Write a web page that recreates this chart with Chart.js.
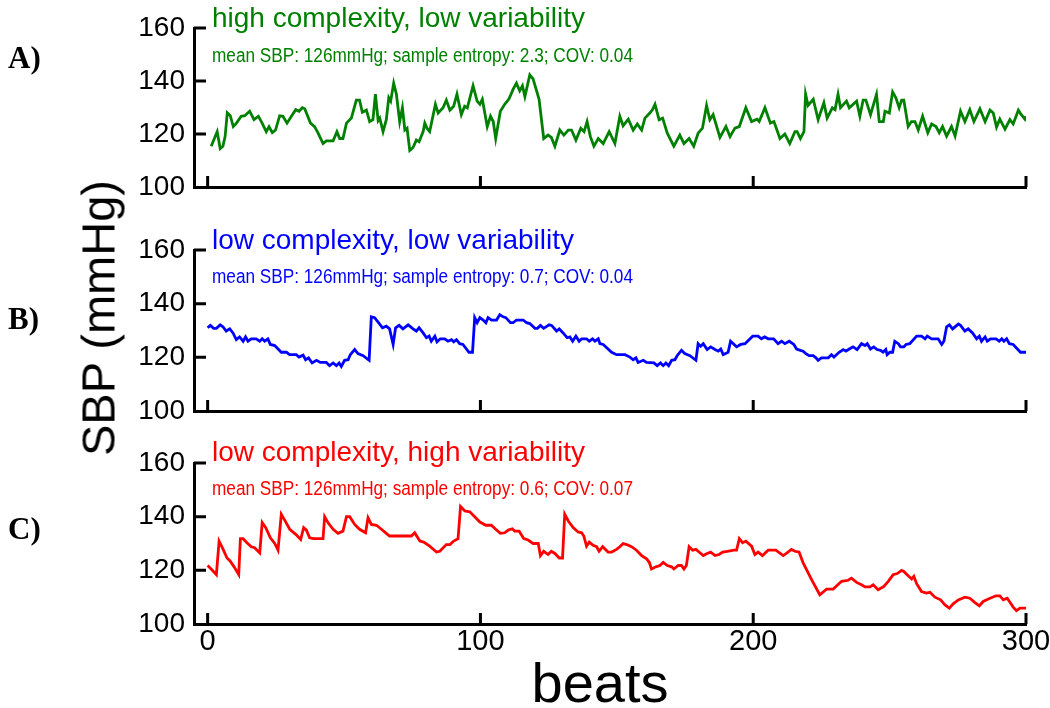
<!DOCTYPE html>
<html>
<head>
<meta charset="utf-8">
<script src="https://cdn.jsdelivr.net/npm/chart.js@4.4.0/dist/chart.umd.min.js"></script>
<style>
body{margin:0;width:1050px;height:708px;position:relative;background:#fff;overflow:hidden;font-family:'Liberation Sans',Arial,sans-serif}
canvas{position:absolute;left:0}
.t1{position:absolute;left:212px;font-size:28px;line-height:1;white-space:nowrap}
.t2{position:absolute;left:212px;font-size:20px;line-height:1;white-space:nowrap;transform:scaleX(0.86);transform-origin:left top}
.lab{position:absolute;left:8px;font:bold 31px 'Liberation Serif','Times New Roman',serif;line-height:1}
#ylab{position:absolute;left:98px;top:318px;transform:translate(-50%,-50%) rotate(-90deg);font-size:47px;line-height:1;white-space:nowrap}
#xlab{position:absolute;left:600px;top:655px;transform:translateX(-50%);font-size:56px;line-height:1;white-space:nowrap}
</style>
</head>
<body>
<canvas id="pa" width="1050" height="213" style="top:0"></canvas>
<canvas id="pb" width="1050" height="223" style="top:215px"></canvas>
<canvas id="pc" width="1050" height="268" style="top:440px"></canvas>

<div class="lab" style="top:42px">A)</div>
<div class="lab" style="top:303px">B)</div>
<div class="lab" style="top:513px">C)</div>
<div id="ylab">SBP (mmHg)</div>
<div id="xlab">beats</div>

<div class="t1" style="top:4px;color:#008000">high complexity, low variability</div>
<div class="t2" style="top:45px;color:#008000">mean SBP: 126mmHg; sample entropy: 2.3; COV: 0.04</div>
<div class="t1" style="top:226px;color:#0000ff">low complexity, low variability</div>
<div class="t2" style="top:266px;color:#0000ff">mean SBP: 126mmHg; sample entropy: 0.7; COV: 0.04</div>
<div class="t1" style="top:438px;color:#ff0000">low complexity, high variability</div>
<div class="t2" style="top:478px;color:#ff0000">mean SBP: 126mmHg; sample entropy: 0.6; COV: 0.07</div>

<script>
// beat ticks and SBP ticks
const xTicks = [0, 100, 200, 300]
const yTicks = [100, 120, 140, 160]

// A) high complexity, low variability
const aBeats = [1.3,3.5,4.6,5.6,6.4,7.2,8.3,9.4,10.5,12.3,
  13.6,15.4,17,18.6,19.7,21.5,22.5,23.7,24.9,26.4,
  27.6,29.1,30.7,32.3,33.5,34.7,35.6,37.7,39.2,40.5,
  42.3,43.5,46,47.4,48.4,49.6,50.9,52.7,54.5,55.7,
  56.7,58.2,59.4,60.6,61.5,62.5,63.1,64.3,65.5,66.4,
  67.1,68.2,69.2,70.4,71.4,72.3,73.1,74.1,75.3,76.5,
  77.5,79,79.6,80.4,81.4,83.5,84.5,86.3,87.5,88.8,
  90.2,91.4,93,94.2,95.2,97.3,98.8,99.8,100.7,102.5,
  103.7,104.7,105.6,107.3,108.9,110.5,112,113.2,114.4,115.4,
  116.3,118.1,119.3,121.5,123.2,124.8,126,127.3,129.1,130.6,
  132.2,133.4,135,136.8,138,139.1,140.3,141.6,143.2,145,
  147.2,149.3,151.1,152.3,154.2,156,157.5,159.1,160.3,162.1,
  163.1,164,165.5,166.8,168.5,170.9,173.1,174.6,176.5,178.2,
  179.8,181.4,182.9,184.1,185.3,187.8,190,191.5,193.3,194.9,
  197.3,199.4,201.4,202.2,204.3,206.3,207.6,209.8,211.6,213.4,
  215.3,216.1,217.3,218.6,219.2,220.1,222,223.8,225.9,227.1,
  229,230,231.1,232,234.2,235.2,237.9,239.1,240.3,241.3,
  243,245.2,246.2,247.7,248.3,249.9,251.1,252.3,253.5,254.4,
  255.2,256.8,258,259.3,260.5,262.1,264,265.4,267,268.2,
  269.4,270.9,272.7,274,276,277.6,279.4,280.9,283.1,285,
  286.8,288,289.2,290.4,292.3,294.1,295.3,297.2,298,299.6,
  300]
const aSbp = [115.4,120.9,114.5,115.4,119,128,126.9,122.8,124,126.7,
  126.9,128.6,125.4,126.7,124.7,120.9,122.8,120.5,121.5,126.9,
  126.7,124.1,126.7,129.2,128.6,129.9,129.5,124.1,122.8,120.3,
  116.4,117.4,117.4,120.9,118.3,118.3,124.1,126,132.8,132.8,
  128.2,129,124.7,125.4,135,125.1,126,120.9,125.4,133.7,
  132.4,139.2,135,124.7,129.9,121.5,122.2,113.8,114.9,117.7,
  117.1,120.9,124.1,122.2,120.9,131.2,127.9,129.9,132.8,129,
  130.5,135,127.3,130.5,129.9,138.2,132.4,131.2,133.1,122.8,
  126.7,124.7,118.3,128.6,131.2,133.3,136.9,139.2,136.3,138.2,
  134.1,142.3,140.8,133.1,118.3,119.6,118.7,115.4,121.5,119.6,
  121.5,121.5,117.7,122.2,120.9,124.7,119,115.4,118.3,116.4,
  120.9,116.4,126.7,123.1,125.6,121.5,123.8,121.5,126,127.9,
  129.2,131.2,125.4,126,120.3,115.4,119.6,116.4,118.3,115.4,
  120.3,122.2,130.8,125.4,127.3,118.7,122.8,119,122.2,122.8,
  129.9,124.7,125.6,124.7,129.9,124.1,124.7,118.3,120,116.4,
  120.9,120.9,118.3,120.9,135,130.8,133.1,125.4,131.8,126,
  129.9,129.2,135,129.9,132.4,129.9,132.4,126.7,132.8,132.8,
  127.3,135,124.7,124.7,128.6,127.9,135.9,133.7,129.9,132.8,
  132.8,122.8,124.7,124.7,121.5,126.7,120.5,123.8,122.8,120.5,
  122.8,119.2,122.8,119.2,128.6,124.7,129.2,124.7,129.5,124.7,
  129,127.9,122.6,125.6,121.8,125.4,123.8,129,127.7,125.6,
  126.7]

// B) low complexity, low variability
const bBeats = [0,1,2.2,3.2,4.6,5.6,6.8,8.1,9.3,10.5,
  11.7,13,13.9,14.8,16,17.8,19.1,20,20.9,22.1,
  23,24.6,27,28.9,30,32.5,33.5,35,35.9,37,
  38.3,39.9,41.3,43.5,44.7,46,47.2,48.2,49,50.2,
  51.5,52.3,53.9,55.1,57,59.2,60,61.2,62.5,64.1,
  65.5,66.7,68,68.9,70.2,71.6,73.5,75.3,76.5,77.5,
  79,80.2,81.2,82,83.3,84.1,85.3,86.9,88.1,89.4,
  90.2,91.2,92.4,93.6,95.8,97.1,97.9,98.8,99.8,101,
  102,102.8,104.1,105.9,107.1,108.3,109.3,111,112,113.2,
  115.7,116.9,118.1,120,120.9,122,123.2,125.2,126.1,127.9,
  128.9,130.3,131.8,132.8,133.8,135,136.2,137.1,138.9,139.9,
  141.1,142,143.2,143.8,145,148.1,149.9,153,154.8,156,
  157,157.8,159.7,160.9,163.6,164.8,166,167,168,169,
  170.1,171.3,172.1,173.7,174.9,176.8,179,179.8,180.7,181.7,
  183.1,184.4,186,187.2,188.1,189,190.8,191.7,193.9,195.4,
  197,199.8,201.8,203,204.2,205.5,207.5,209.1,210.4,211.6,
  213.2,214.9,215.9,217.3,218.3,219.3,220.5,222,223,223.8,
  225,227.5,228.7,229.6,231.5,233,234,235.2,236.6,238.1,
  239.7,241,241.8,243,244.2,245.4,246.7,247.6,248.6,249.1,
  250.1,251.1,251.9,253.2,254,255.2,256,257.4,259.9,261.7,
  263,263.8,265.4,267.8,269.1,269.9,270.9,271.9,273.1,275.2,
  276,277.6,278.8,280.4,281.9,282.9,283.7,285,285.8,287,
  289,290.2,291.1,291.9,292.9,293.9,295.3,296.5,298,300]
const bSbp = [131,131.9,130.8,130.8,132.1,131.4,129.8,130.6,129.1,126.6,
  127.6,126,127.6,126,126.9,126.9,126,126.9,126,126.9,
  124.8,124.4,121.9,121.9,121,121,120.1,120.8,119.1,119.8,
  117.9,118.9,118.1,118.1,116.9,117.9,116.9,117.9,116.6,118.9,
  119.1,121,122.9,121.4,120.6,118.9,135.1,134.8,133.1,131,
  131.6,130.6,124.8,131,131.9,130.6,132.1,130.6,129.8,131,
  129.1,127.3,127.9,126,127.9,125.8,126.9,126.9,126,126.6,
  125.8,126.6,125.1,124.8,121.9,121.9,134.8,132.9,134.8,133.9,
  132.9,134.8,133.9,133.9,135.9,135.1,134.8,132.9,132.9,133.9,
  133.9,132.9,132.6,130.8,130.8,131.9,130.8,132.1,131.9,129.8,
  130.6,129.1,127.3,127.6,126,127.9,126,126.9,126.9,126,
  126.9,126,126.9,125.1,124.8,121.9,121,121,120.1,119.1,
  119.8,118.1,118.9,118.1,117.9,116.9,117.9,116.9,117.9,116.9,
  118.9,119.1,120.6,122.6,121.4,120.6,118.9,125.1,124.1,125.1,
  122.9,123.9,122.9,122.3,123.1,121,121.9,126,123.9,124.8,
  125.1,127.9,127.9,126.9,127.6,126.9,126.9,125.1,126,125.1,
  126,124.8,123.1,122.6,122.3,121.4,120.6,120.6,119.8,118.9,
  119.8,119.8,121,120.1,121.9,122.9,122.3,123.1,123.9,122.9,
  125.1,124.4,125.1,123.1,123.9,122.9,122.6,121.9,122.9,121,
  121.9,121.9,126,125.1,123.9,123.9,124.8,125.1,127.9,127.9,
  126.9,127.9,126.9,126.9,124.8,126,131.4,132.1,130.6,132.4,
  131.9,129.8,130.6,129.1,126.9,127.9,126,127.6,126,126.9,
  126.9,126,126.9,126,126.9,125.1,124.8,123.5,121.9,121.9]

// C) low complexity, high variability
const cBeats = [0,1.3,3.2,4.2,5.6,7.1,8.3,9.7,11.4,12,
  13,14.4,16,17.2,19.1,20,21.3,23,24.6,25.8,
  27,28.2,30.1,32.3,34.1,35.2,36.2,37.4,38.9,42.3,
  42.9,44.1,46,47.8,49.6,50.9,52.1,53.9,55.7,57.9,
  58.8,60,61.9,63.7,65.5,66.7,74.7,75.9,77.8,79.2,
  81.4,83.9,85.1,87.5,88.8,90.2,91.8,92.7,94.3,96.1,
  97.9,99.8,102,104,105.6,107.3,108.9,110.2,111.7,112.6,
  114.2,115.9,117.5,119.3,121.2,122,123.2,124.8,126,127.3,
  128.9,130.1,130.9,132.2,134,135.8,137.1,137.9,138.9,139.9,
  141.3,142.6,143.5,144.8,146.8,148.1,149.9,151.1,152.3,153.6,
  155.4,157.2,159.1,160.9,161.9,162.7,164.3,165.8,167,168.5,
  170.1,170.9,172.5,173.7,174.6,175.5,176.5,177.8,179,179.8,
  181.7,183.1,184.4,186,187.5,188.8,190.5,192.9,193.9,194.9,
  196.1,197.3,199.4,200.6,201.8,203.4,205.5,208.3,211,212.4,
  214,215.3,216.8,218.3,221.4,224.4,226.9,229.3,232.4,234.8,
  236,237.9,239.7,241,242.8,244,245.8,247.9,249.5,251.3,
  252.8,254.4,255.2,256.8,258.1,258.9,259.9,261.7,263.5,264.8,
  266.6,268.7,270.3,271.9,273.3,275.2,277.6,279.4,281.3,282.9,
  284.3,286.8,289,290.4,291.7,293.1,294.3,295.3,296.5,297.8,
  300]
const cSbp = [121.8,120.5,118.4,130.9,128,124.6,123.4,121.3,118.4,131.8,
  131.8,130.3,128.8,128.4,126.5,137.8,135.9,132.1,130,127.5,
  140.9,138.8,135.3,133.4,131.5,135.9,135,132.1,131.8,131.8,
  140,137.8,135.3,133.8,134.6,140,140,137.1,135.3,134,
  139.6,137.1,136.8,135.3,133.8,132.8,132.8,134,130.9,130.5,
  129,126.8,127.1,129.6,129.6,130.9,131.8,143.8,142.1,141.8,
  140,138,136.8,136.8,135.3,133.8,134,135,135.5,134.6,
  134.6,131.8,131.3,130,130,125.5,127.1,125.9,127.1,126.3,
  124.6,124.6,140.9,138.4,135.9,134.3,134,132.8,129,130.5,
  129.3,128.8,127.1,128.8,126.8,126.8,127.8,128.8,130,129.6,
  128.8,127.5,125.5,124.3,123,120.5,121.3,121.8,123,121.8,
  121.3,120.5,121.8,121.8,120.5,121.8,128.8,127.5,127.8,127.1,
  125.5,126.3,126.8,125.5,125.9,126.8,127.1,127.5,127.5,131.8,
  130.3,130.9,129,125.9,126.8,125.5,127.5,127.5,125.5,126.5,
  127.8,127.1,126.8,122.8,116.5,110.9,113,113,115.9,116.3,
  117.1,115.5,114.6,113.8,113.8,114.6,112.8,114,115.9,118.4,
  118.8,120,119.6,118,116.8,117.8,115,112.1,111.5,111.8,
  110,109,107.1,105.9,107.5,109,110,109.6,108,106.8,
  108.4,109.6,110.5,110.5,109,109.6,107.8,106.3,105,105.9,
  105.9]

const innerTicks = {
  id: 'innerTicks',
  afterDraw(chart) {
    const {ctx, chartArea: a, scales: {x, y}} = chart
    ctx.save()
    ctx.strokeStyle = '#000'
    ctx.lineWidth = 3
    ctx.beginPath()
    x.ticks.forEach(t => {
      const px = x.getPixelForValue(t.value)
      ctx.moveTo(px, a.bottom)
      ctx.lineTo(px, a.bottom - 11)
    })
    y.ticks.forEach(t => {
      if (t.value === 100) return
      const py = y.getPixelForValue(t.value)
      ctx.moveTo(a.left, py)
      ctx.lineTo(a.left + 12, py)
    })
    ctx.stroke()
    ctx.restore()
  }
}

const makePanel = (id, beats, sbp, color, top, xh, labels) => new Chart(document.getElementById(id), {
  type: 'line',
  data: {datasets: [{
    data: beats.map((b, i) => ({x: b, y: sbp[i]})),
    borderColor: color, borderWidth: 2.8, pointRadius: 0, tension: 0, fill: false
  }]},
  options: {
    responsive: false, animation: false, devicePixelRatio: 1,
    layout: {padding: {top: top, right: 24, left: 0, bottom: 0}},
    plugins: {legend: {display: false}, tooltip: {enabled: false}},
    scales: {
      x: {
        type: 'linear', min: -5, max: 300,
        afterBuildTicks: s => { s.ticks = xTicks.map(v => ({value: v})) },
        afterFit: s => { s.height = xh },
        grid: {display: false},
        border: {color: '#000', width: 3},
        ticks: {display: labels, color: '#000', padding: -7, maxRotation: 0,
          font: {family: "'Liberation Sans',Arial,sans-serif", size: 29}}
      },
      y: {
        min: 100, max: 160,
        afterBuildTicks: s => { s.ticks = yTicks.map(v => ({value: v})) },
        afterFit: s => { s.width = 194 },
        grid: {display: false},
        border: {color: '#000', width: 3},
        ticks: {color: '#000', padding: 1, font: {family: "'Liberation Sans',Arial,sans-serif", size: 28}}
      }
    }
  },
  plugins: [innerTicks]
})

makePanel('pa', aBeats, aSbp, '#008000', 28, 26, false)
makePanel('pb', bBeats, bSbp, '#0000ff', 35, 27, false)
makePanel('pc', cBeats, cSbp, '#ff0000', 23, 84, true)
</script>
</body>
</html>
